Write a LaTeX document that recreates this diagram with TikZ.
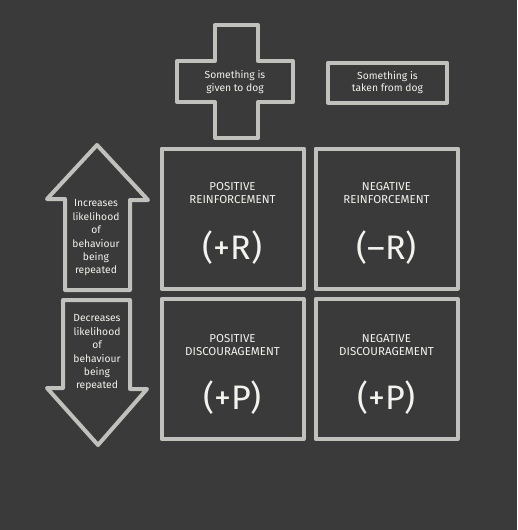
\documentclass[tikz,border=0pt]{standalone}
\usepackage{fontspec}
\setmainfont{Fira Sans}
\definecolor{board}{RGB}{58,58,58}
\definecolor{chalk}{RGB}{192,192,188}
\definecolor{chalktext}{RGB}{242,242,238}
\tikzset{
  chalkline/.style={draw=chalk, line width=4pt, line join=round},
  smalltext/.style={text=chalktext, align=center, font=\fontsize{10.3}{12.5}\selectfont},
  arrowtext/.style={text=chalktext, align=center, font=\fontsize{10.3}{13.4}\selectfont},
  captext/.style={text=chalktext, align=center, font=\fontsize{11.5}{13}\selectfont},
  bigtext/.style={text=chalktext, font=\fontsize{34}{36}\selectfont},
  square/.style={chalkline, minimum width=142pt, minimum height=140pt, inner sep=0pt},
}
\begin{document}
\begin{tikzpicture}[x=1pt,y=-1pt]
\fill[board] (0,0) rectangle (517,530);
\useasboundingbox (0,0) rectangle (517,530);
% cross
\draw[chalkline] (215,25) -- (258,25) -- (258,61) -- (293,61) -- (293,102) -- (258,102) -- (258,138) -- (215,138) -- (215,102) -- (177,102) -- (177,61) -- (215,61) -- cycle;
\node[smalltext] (given) at (235,82) {Something is\\given to dog};
% minus box
\node[chalkline, minimum width=119pt, minimum height=40pt, inner sep=0pt] (takenbox) at (387.5,82.5) {};
\node[smalltext] (taken) at (387.5,82.5) {Something is\\taken from dog};
% squares
\node[square] (pr) at (232.5,218.5) {};
\node[square] (nr) at (386.5,218.5) {};
\node[square] (pp) at (232.5,369) {};
\node[square] (np) at (386.5,369) {};
\node[captext] (prl) at (232.5,193) {POSITIVE\\REINFORCEMENT};
\node[bigtext] (prs) at (232.5,248) {(+R)};
\node[captext] (nrl) at (386.5,193) {NEGATIVE\\REINFORCEMENT};
\node[bigtext] (nrs) at (386.5,248) {(--R)};
\node[captext] (ppl) at (232.5,345) {POSITIVE\\DISCOURAGEMENT};
\node[bigtext] (pps) at (232.5,398) {(+P)};
\node[captext] (npl) at (386.5,345) {NEGATIVE\\DISCOURAGEMENT};
\node[bigtext] (nps) at (386.5,398) {(+P)};
% up arrow
\draw[chalkline] (65,290) -- (65,199) -- (47,199) -- (97,145) -- (148,200) -- (130,200) -- (130,290) -- cycle;
\node[arrowtext] (up) at (96,238) {Increases\\likelihood\\of\\behaviour\\being\\repeated};
% down arrow
\draw[chalkline] (63,300) -- (130,300) -- (130,389) -- (147,389) -- (98,445) -- (47,388) -- (63,388) -- cycle;
\node[arrowtext] (down) at (97,353) {Decreases\\likelihood\\of\\behaviour\\being\\repeated};
\end{tikzpicture}
\end{document}
